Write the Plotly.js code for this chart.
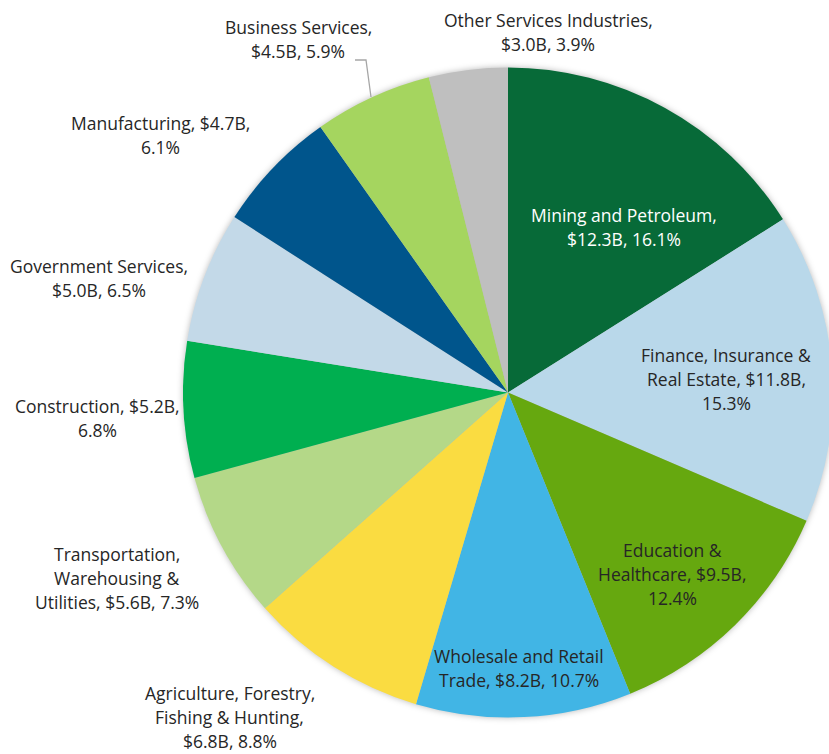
<!DOCTYPE html>
<html><head><meta charset="utf-8">
<script src="https://cdn.plot.ly/plotly-3.0.1.min.js"></script>
<style>html,body{margin:0;padding:0;overflow:hidden;background:#fff;width:829px;height:754px}#chart{width:850px;height:754px}
#chart .trace{filter:drop-shadow(0 0 3px rgba(0,0,0,0.28));}</style>
</head><body><div id="chart"></div>
<script>
const categories = ["Mining and Petroleum","Finance, Insurance & Real Estate","Education & Healthcare","Wholesale and Retail Trade","Agriculture, Forestry, Fishing & Hunting","Transportation, Warehousing & Utilities","Construction","Government Services","Manufacturing","Business Services","Other Services Industries"];
const valuesB = [12.3, 11.8, 9.5, 8.2, 6.8, 5.6, 5.2, 5.0, 4.7, 4.5, 3.0];
const percents = [16.1, 15.3, 12.4, 10.7, 8.8, 7.3, 6.8, 6.5, 6.1, 5.9, 3.9];
const labelLines = [
 ["Mining and Petroleum,","$12.3B, 16.1%"],
 ["Finance, Insurance &","Real Estate, $11.8B,","15.3%"],
 ["Education &","Healthcare, $9.5B,","12.4%"],
 ["Wholesale and Retail","Trade, $8.2B, 10.7%"],
 ["Agriculture, Forestry,","Fishing & Hunting,","$6.8B, 8.8%"],
 ["Transportation,","Warehousing &","Utilities, $5.6B, 7.3%"],
 ["Construction, $5.2B,","6.8%"],
 ["Government Services,","$5.0B, 6.5%"],
 ["Manufacturing, $4.7B,","6.1%"],
 ["Business Services,","$4.5B, 5.9%"],
 ["Other Services Industries,","$3.0B, 3.9%"]
];
const colors = ["#076a38","#b9d8ea","#66a80f","#41b5e5","#fadc41","#b4d888","#00af50","#c3d9e8","#00558c","#a5d55f","#bfbfbf"];

const W = 850, H = 754, LH = 24;
// label centre positions in pixels (layout only)
const labelPos = [[624,227],[726,379],[672,574],[519,668],[230,717],[117,578],[97,418],[99,278],[160,135],[298,39],[548,32]];
const labelColor = ["#ffffff","#262626","#262626","#262626","#262626","#262626","#262626","#262626","#262626","#262626","#262626"];

const annotations = [];
labelLines.forEach((lines,i)=>{
  const n=lines.length;
  lines.forEach((t,k)=>{
    const py = labelPos[i][1] + (k-(n-1)/2)*LH;
    annotations.push({text:t, xref:"paper", yref:"paper",
      x: labelPos[i][0]/W, y: 1 - py/H,
      xanchor:"center", yanchor:"middle", showarrow:false, align:"center", borderpad:0,
      font:{family:"'Open Sans', sans-serif", size:17.5, color:labelColor[i]}});
  });
});

const cx=508, cy=392.5, r=325;
const data=[{
  type:"pie", labels:categories, values:valuesB, customdata:percents,
  sort:false, direction:"clockwise", rotation:0,
  marker:{colors:colors, line:{width:0}},
  textinfo:"none", hoverinfo:"label+value", showlegend:false,
  domain:{x:[(cx-r)/W,(cx+r)/W], y:[(H-cy-r)/H,(H-cy+r)/H]}
}];
const layout={
  width:W, height:H, margin:{l:0,r:0,t:0,b:0},
  paper_bgcolor:"#fff", showlegend:false,
  annotations:annotations,
  shapes:[{type:"path", xref:"paper", yref:"paper",
    path:`M ${355/W},${1-60/H} L ${366/W},${1-60/H} L ${371/W},${1-97/H}`,
    line:{color:"#a6a6a6", width:1.3}}]
};
Plotly.newPlot("chart",data,layout,{displayModeBar:false,staticPlot:true});
</script></body></html>
